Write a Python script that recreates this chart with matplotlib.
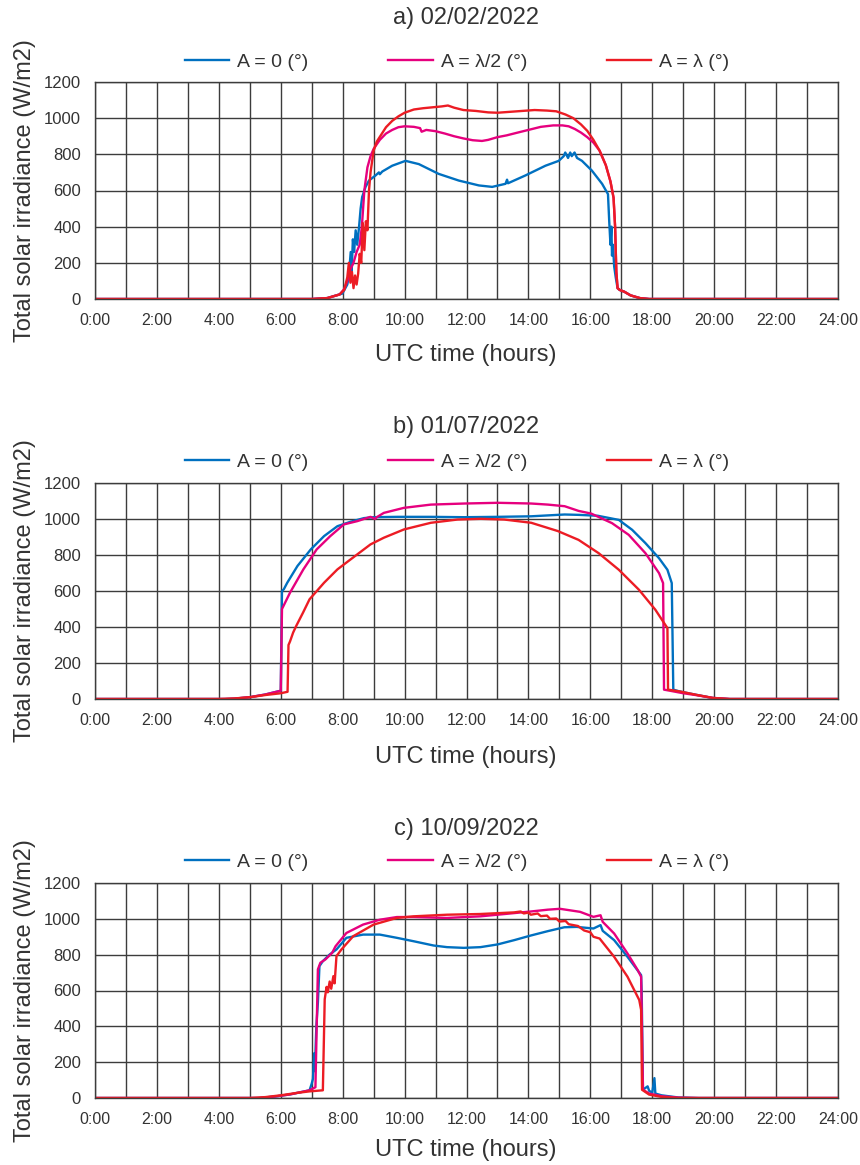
import numpy as np
import matplotlib
matplotlib.use("Agg")
import matplotlib.pyplot as plt
from matplotlib.ticker import MultipleLocator, FuncFormatter

plt.rcParams['font.family'] = ['Liberation Sans', 'DejaVu Sans']

# ---- data: (UTC hour, W/m2) ----
titles = ["a) 02/02/2022", "b) 01/07/2022", "c) 10/09/2022"]
labels = ["A = 0 (°)", "A = λ/2 (°)", "A = λ (°)"]
colors = ["#0070C0", "#E6007E", "#EC1C24"]

# a) 02/02/2022
a_blue = [(0, 0), (7.0, 0), (7.5, 5), (7.99, 30), (8.15, 80), (8.2, 127), (8.26, 260), (8.29, 150),
          (8.33, 330), (8.37, 260), (8.42, 380), (8.47, 300), (8.53, 400), (8.58, 500), (8.63, 564),
          (8.74, 620), (8.85, 655), (9.06, 683), (9.17, 700), (9.2, 690), (9.28, 705), (9.6, 737),
          (10.03, 764), (10.46, 746), (11.1, 692), (11.75, 655), (12.4, 628), (12.83, 620),
          (13.26, 637), (13.31, 660), (13.34, 640), (13.9, 683), (14.55, 737), (14.98, 764),
          (15.14, 790), (15.19, 810), (15.28, 780), (15.35, 810), (15.4, 790), (15.49, 810),
          (15.57, 780), (15.73, 764), (16.05, 710), (16.38, 637), (16.57, 580), (16.61, 430),
          (16.65, 300), (16.68, 400), (16.7, 240), (16.73, 300), (16.77, 180), (16.82, 120),
          (16.88, 60), (16.95, 50), (17.1, 40), (17.3, 20), (17.6, 5), (17.9, 0), (24, 0)]
a_mag = [(0, 0), (7.0, 0), (7.5, 5), (7.9, 25), (8.05, 55), (8.15, 100), (8.25, 164), (8.35, 200),
         (8.45, 260), (8.55, 300), (8.62, 400), (8.7, 600), (8.8, 728), (8.9, 790), (9.0, 830),
         (9.2, 880), (9.4, 915), (9.6, 935), (9.8, 950), (10.0, 955), (10.3, 952), (10.5, 945),
         (10.55, 925), (10.7, 935), (11.0, 928), (11.3, 915), (11.6, 900), (11.9, 888), (12.2, 878),
         (12.5, 874), (12.7, 880), (12.8, 885), (13.0, 895), (13.3, 905), (13.6, 918), (14.0, 935),
         (14.4, 952), (14.8, 960), (15.1, 960), (15.3, 955), (15.5, 940), (15.7, 920), (15.9, 895),
         (16.1, 865), (16.3, 820), (16.5, 740), (16.65, 650), (16.75, 560), (16.8, 400),
         (16.84, 150), (16.88, 60), (16.95, 50), (17.1, 40), (17.3, 20), (17.6, 5), (17.9, 0), (24, 0)]
a_red = [(0, 0), (7.0, 0), (7.5, 5), (7.9, 25), (8.05, 50), (8.15, 120), (8.2, 200), (8.25, 90),
         (8.3, 150), (8.35, 60), (8.4, 130), (8.45, 80), (8.5, 140), (8.55, 250), (8.6, 200),
         (8.65, 420), (8.7, 270), (8.75, 430), (8.8, 380), (8.85, 600), (8.9, 700), (9.0, 820),
         (9.1, 870), (9.25, 910), (9.4, 950), (9.6, 985), (9.8, 1010), (10.0, 1030), (10.3, 1048),
         (10.6, 1055), (10.9, 1060), (11.2, 1065), (11.4, 1070), (11.6, 1058), (11.9, 1045),
         (12.3, 1040), (12.7, 1032), (13.0, 1030), (13.4, 1035), (13.8, 1040), (14.2, 1045),
         (14.6, 1042), (14.9, 1038), (15.2, 1020), (15.45, 1000), (15.7, 965), (15.9, 930),
         (16.1, 880), (16.3, 820), (16.5, 740), (16.65, 650), (16.75, 560), (16.8, 400),
         (16.84, 150), (16.88, 60), (16.95, 50), (17.1, 40), (17.3, 20), (17.6, 5), (17.9, 0), (24, 0)]

# b) 01/07/2022
b_blue = [(0, 0), (4.2, 0), (4.5, 2), (5.0, 10), (5.5, 25), (6.0, 46), (6.04, 600), (6.1, 610),
          (6.21, 646), (6.54, 739), (6.97, 831), (7.4, 905), (7.83, 960), (8.26, 985), (8.69, 1005),
          (9.0, 1010), (9.77, 1012), (10.85, 1012), (11.93, 1010), (13.01, 1012), (14.09, 1015),
          (15.17, 1025), (15.62, 1023), (16.24, 1018), (16.92, 995), (17.35, 940), (17.78, 866),
          (18.22, 782), (18.49, 718), (18.63, 644), (18.68, 52), (18.86, 43), (19.4, 24),
          (19.95, 6), (20.5, 0), (24, 0)]
b_mag = [(0, 0), (4.2, 0), (4.5, 2), (5.0, 10), (5.5, 25), (6.0, 46), (6.04, 500), (6.3, 591),
         (6.73, 720), (7.16, 831), (7.6, 905), (8.04, 970), (8.47, 988), (8.9, 1012), (9.05, 1000),
         (9.1, 1010), (9.33, 1034), (9.98, 1062), (10.85, 1080), (11.93, 1086), (13.01, 1090),
         (14.09, 1086), (14.63, 1080), (15.17, 1071), (15.62, 1045), (16.03, 1030), (16.7, 977),
         (17.24, 912), (17.78, 810), (18.22, 699), (18.35, 644), (18.38, 52), (18.6, 45),
         (19.0, 32), (19.4, 22), (19.95, 6), (20.5, 0), (24, 0)]
b_red = [(0, 0), (4.0, 0), (4.5, 3), (5.0, 10), (5.5, 22), (6.0, 32), (6.22, 40), (6.25, 300),
         (6.3, 320), (6.4, 369), (6.5, 406), (6.72, 480), (6.93, 554), (7.4, 646), (7.83, 720),
         (8.26, 776), (8.9, 859), (9.33, 896), (9.98, 942), (10.85, 979), (11.71, 997),
         (12.46, 1001), (13.22, 997), (14.09, 979), (14.95, 933), (15.62, 884), (16.27, 810),
         (16.92, 718), (17.57, 607), (18.1, 496), (18.49, 394), (18.51, 52), (18.86, 43),
         (19.4, 24), (19.95, 6), (20.5, 0), (24, 0)]

# c) 10/09/2022
c_blue = [(0, 0), (5.3, 0), (5.8, 8), (6.3, 20), (6.93, 43), (7.0, 80), (7.04, 107), (7.08, 250),
          (7.1, 150), (7.15, 400), (7.2, 533), (7.25, 736), (7.36, 764), (7.58, 801), (7.8, 829),
          (8.12, 894), (8.66, 912), (9.2, 912), (9.75, 894), (10.29, 875), (10.94, 851),
          (11.37, 842), (11.91, 838), (12.45, 842), (13.0, 857), (13.54, 881), (14.08, 907),
          (14.62, 931), (15.16, 953), (15.56, 955), (16.1, 946), (16.33, 965), (16.4, 933),
          (16.77, 881), (17.2, 788), (17.64, 686), (17.66, 584), (17.7, 46), (17.85, 65),
          (17.9, 40), (18.0, 30), (18.07, 111), (18.1, 25), (18.3, 15), (18.84, 3), (19.5, 0), (24, 0)]
c_mag = [(0, 0), (5.3, 0), (5.8, 8), (6.3, 20), (6.93, 43), (7.12, 60), (7.2, 718), (7.28, 755),
         (7.44, 773), (7.66, 810), (7.77, 847), (8.12, 921), (8.66, 968), (9.2, 995), (9.75, 1010),
         (10.29, 1010), (11.37, 1005), (12.45, 1014), (13.0, 1023), (13.54, 1032), (14.08, 1041),
         (14.62, 1051), (15.02, 1056), (15.67, 1039), (16.1, 1011), (16.33, 1020), (16.4, 983),
         (16.77, 918), (17.2, 807), (17.53, 714), (17.64, 677), (17.7, 46), (17.9, 25),
         (18.3, 10), (18.84, 2), (19.5, 0), (24, 0)]
c_red = [(0, 0), (5.0, 0), (5.5, 5), (6.0, 15), (6.5, 28), (6.93, 37), (7.36, 43), (7.42, 551),
         (7.48, 620), (7.52, 590), (7.58, 650), (7.63, 610), (7.7, 680), (7.74, 640), (7.8, 792),
         (7.96, 829), (8.34, 903), (9.0, 968), (9.75, 1005), (10.29, 1014), (11.37, 1023),
         (12.45, 1027), (13.54, 1036), (13.75, 1041), (13.85, 1030), (14.0, 1035), (14.08, 1023),
         (14.3, 1030), (14.4, 1015), (14.6, 1018), (14.7, 1000), (14.9, 1002), (15.0, 985),
         (15.2, 988), (15.3, 970), (15.6, 960), (15.8, 935), (16.0, 925), (16.1, 900),
         (16.3, 890), (16.77, 788), (17.2, 677), (17.58, 547), (17.64, 492), (17.67, 46),
         (17.9, 19), (18.3, 6), (18.84, 0), (24, 0)]

panels = [(a_blue, a_mag, a_red), (b_blue, b_mag, b_red), (c_blue, c_mag, c_red)]

# ---- layout (pixel positions in the 860x1165 figure) ----
W, H = 860, 1165
ax_left, ax_right = 95, 838
ax_tops = [82, 483, 883]
ax_bots = [299, 699, 1098]
title_y = [18, 427, 829]
legend_y = [62, 462, 862]
xlabel_y = [355, 757, 1150]

grid_c = "#3c3c3c"
text_c = "#333333"

fig = plt.figure(figsize=(W / 100, H / 100), dpi=100)

for i, series in enumerate(panels):
    ax = fig.add_axes([ax_left / W, 1 - ax_bots[i] / H,
                       (ax_right - ax_left) / W, (ax_bots[i] - ax_tops[i]) / H])
    for data, lab, col in zip(series, labels, colors):
        arr = np.array(data, dtype=float)
        ax.plot(arr[:, 0], arr[:, 1], color=col, lw=1.7, label=lab, solid_joinstyle='round')

    ax.set_xlim(0, 24)
    ax.set_ylim(0, 1200)
    ax.xaxis.set_major_locator(MultipleLocator(2))
    ax.xaxis.set_minor_locator(MultipleLocator(1))
    ax.xaxis.set_major_formatter(FuncFormatter(lambda v, p: f"{int(round(v))}:00"))
    ax.yaxis.set_major_locator(MultipleLocator(200))
    ax.grid(which='both', axis='x', color=grid_c, lw=1.0)
    ax.grid(which='major', axis='y', color=grid_c, lw=1.0)
    ax.set_axisbelow(True)
    for s in ax.spines.values():
        s.set_color(grid_c)
        s.set_linewidth(1.0)
    ax.tick_params(which='both', length=0)
    ax.tick_params(axis='x', labelsize=11.5, pad=10, labelcolor=text_c)
    ax.tick_params(axis='y', labelsize=12, pad=10, labelcolor=text_c)

    ax.set_ylabel("Total solar irradiance (W/m2)", fontsize=17, color=text_c)
    ax.yaxis.set_label_coords((36 - ax_left) / (ax_right - ax_left), 0.5)
    ax.set_xlabel("UTC time (hours)", fontsize=17, color=text_c, va='center')
    ax.xaxis.set_label_coords(466 / W, 1 - xlabel_y[i] / H, transform=fig.transFigure)

    fig.text(466 / W, 1 - title_y[i] / H, titles[i], fontsize=17, color=text_c,
             ha='center', va='center')
    ax.legend(loc='center', bbox_to_anchor=(457 / W, 1 - legend_y[i] / H),
              bbox_transform=fig.transFigure, ncol=3, frameon=False, fontsize=14,
              handlelength=2.3, handletextpad=0.4, columnspacing=4.1, labelcolor=text_c)

fig.savefig("out.png", dpi=100)
